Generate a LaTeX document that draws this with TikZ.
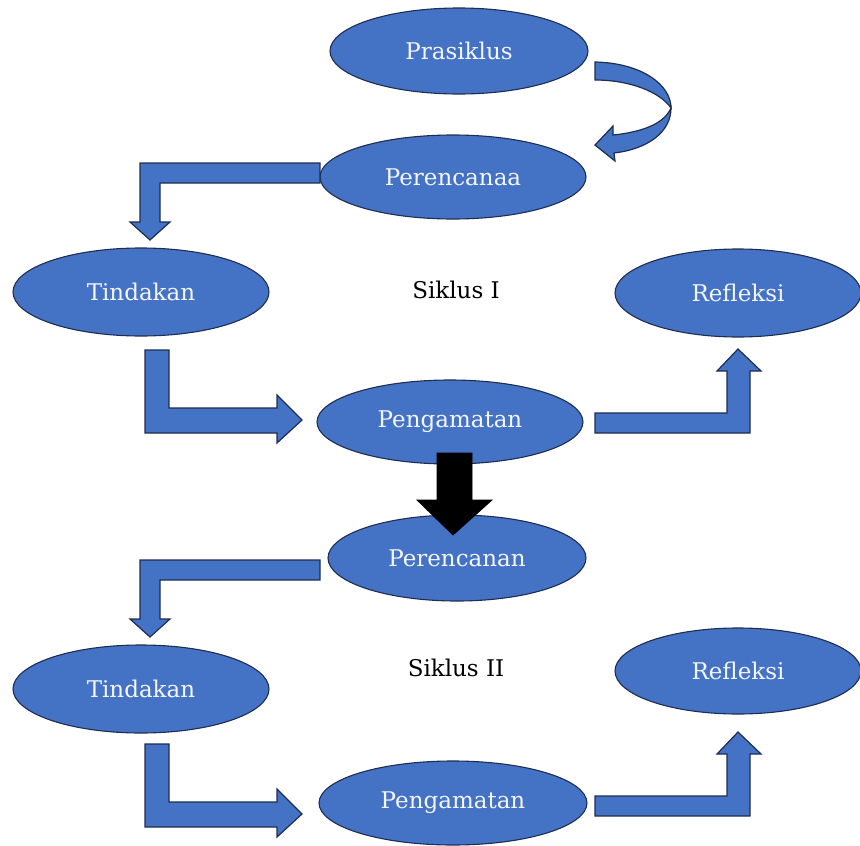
\documentclass[tikz,border=0pt]{standalone}
\usepackage{fontspec}
\setmainfont{DejaVu Serif}
\usetikzlibrary{shapes.geometric}
\definecolor{obl}{HTML}{4472C4}
\definecolor{oline}{HTML}{1F2D50}
\definecolor{txtw}{HTML}{F4F6FB}
\begin{document}
\begin{tikzpicture}[x=1pt,y=-1pt,
  oval/.style={ellipse,draw=oline,line width=1.1pt,fill=obl,inner sep=0pt,
    text=txtw,font=\fontsize{23}{26}\selectfont},
  blockarrow/.style={fill=obl,draw=oline,line width=1.2pt,line join=miter},
  blackarrow/.style={fill=black,draw=black,line width=0.8pt},
  cyclelabel/.style={font=\fontsize{23}{26}\selectfont,text=black}]
\useasboundingbox (0,0) rectangle (860,846);
% cycle I
\node[oval,minimum width=258pt,minimum height=86pt] (pra) at (459,51) {Prasiklus};
\node[oval,minimum width=266pt,minimum height=84pt] (per1) at (453,177) {Perencanaa};
\node[oval,minimum width=256pt,minimum height=88pt] (tin1) at (141,292) {Tindakan};
\node[oval,minimum width=246pt,minimum height=88pt] (ref1) at (738,293) {Refleksi};
\node[oval,minimum width=266pt,minimum height=84pt] (pen1) at (450,422) {Pengamatan};
\node[cyclelabel] (sik1) at (456,290) {Siklus I};
% cycle II
\node[oval,minimum width=258pt,minimum height=86pt] (per2) at (457,558) {Perencanan};
\node[oval,minimum width=256pt,minimum height=88pt] (tin2) at (141,689) {Tindakan};
\node[oval,minimum width=246pt,minimum height=86pt] (ref2) at (738,671) {Refleksi};
\node[oval,minimum width=268pt,minimum height=84pt] (pen2) at (453,803) {Pengamatan};
\node[cyclelabel] (sik2) at (456,668) {Siklus II};
% curved arrow Prasiklus -> Perencanaa
\draw[blockarrow] (595,62) .. controls (642,63) and (671,85) .. (671,108)
   .. controls (660,92) and (630,80) .. (595,80) -- cycle;
\draw[blockarrow] (671,108) .. controls (664,124) and (642,132) .. (613,135)
   -- (613,126) -- (595,145) -- (615,161) -- (614,153)
   .. controls (648,149) and (671,132) .. (671,108) -- cycle;
% cycle I bent arrows
\draw[blockarrow] (320,163) -- (140,163) -- (140,222) -- (130,222) -- (150,240)
   -- (170,222) -- (160,222) -- (160,183) -- (320,183) -- cycle;
\draw[blockarrow] (145,350) -- (169,350) -- (169,408) -- (277,408) -- (277,395)
   -- (302,420) -- (277,443) -- (277,433) -- (145,433) -- cycle;
\draw[blockarrow] (595,413) -- (727,413) -- (727,371) -- (717,371) -- (738,349)
   -- (761,371) -- (750,371) -- (750,433) -- (595,433) -- cycle;
% cycle II bent arrows
\begin{scope}[yshift=-397pt]
\draw[blockarrow] (320,163) -- (140,163) -- (140,222) -- (130,222) -- (150,240)
   -- (170,222) -- (160,222) -- (160,183) -- (320,183) -- cycle;
\end{scope}
\begin{scope}[yshift=-394pt]
\draw[blockarrow] (145,350) -- (169,350) -- (169,408) -- (277,408) -- (277,395)
   -- (302,420) -- (277,443) -- (277,433) -- (145,433) -- cycle;
\end{scope}
\begin{scope}[yshift=-383pt]
\draw[blockarrow] (595,413) -- (727,413) -- (727,371) -- (717,371) -- (738,349)
   -- (761,371) -- (750,371) -- (750,433) -- (595,433) -- cycle;
\end{scope}
% black arrow Pengamatan -> Perencanan
\draw[blackarrow] (437,453) -- (472,453) -- (472,500) -- (492,500) -- (453,535)
   -- (417,500) -- (437,500) -- cycle;
\end{tikzpicture}
\end{document}
